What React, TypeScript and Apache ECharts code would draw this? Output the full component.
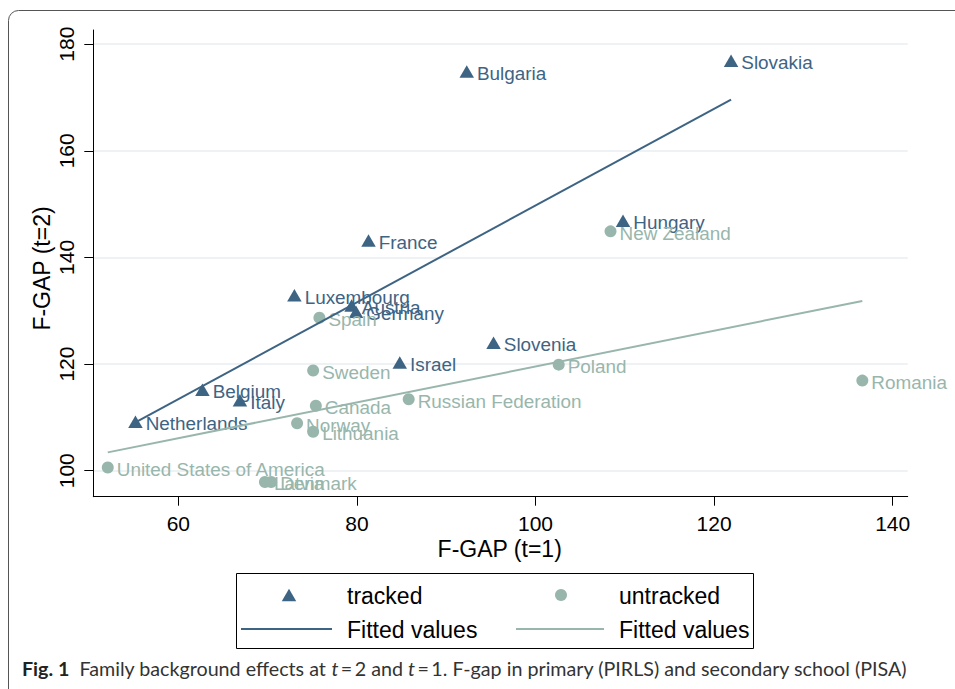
import React, { useEffect, useRef } from "react";
import * as echarts from "echarts";

// ---- data ----
const trackedNames = ["Slovakia", "Bulgaria", "Hungary", "France", "Luxembourg", "Austria", "Germany", "Slovenia", "Israel", "Belgium", "Italy", "Netherlands"];
const trackedX = [121.9, 92.3, 109.8, 81.3, 73.0, 79.4, 79.9, 95.3, 84.8, 62.7, 66.9, 55.2];
const trackedY = [176.9, 174.9, 146.9, 143.2, 132.9, 131.0, 129.8, 124.0, 120.3, 115.2, 113.2, 109.2];

const untrackedNames = ["New Zealand", "Spain", "Sweden", "Poland", "Romania", "Canada", "Russian Federation", "Norway", "Lithuania", "United States of America", "Latvia", "Denmark"];
const untrackedX = [108.4, 75.8, 75.1, 102.6, 136.6, 75.4, 85.8, 73.3, 75.1, 52.1, 69.7, 70.4];
const untrackedY = [144.9, 128.7, 118.8, 119.9, 116.9, 112.2, 113.4, 108.9, 107.3, 100.6, 97.9, 97.9];

const xTicks = [60, 80, 100, 120, 140];
const yTicks = [100, 120, 140, 160, 180];

const X_MIN = 50.48;
const X_MAX = 141.68;
const Y_MIN = 95.13;
const Y_MAX = 182.66;

const TRACKED_COLOR = "#3e6484";
const UNTRACKED_COLOR = "#98b6ac";
const FONT = "'Liberation Sans', Arial, Helvetica, sans-serif";
const CAPTION_FONT = "Lato, 'Open Sans', sans-serif";

function ols(xs: number[], ys: number[]) {
  const n = xs.length;
  const mx = xs.reduce((a, b) => a + b, 0) / n;
  const my = ys.reduce((a, b) => a + b, 0) / n;
  let sxy = 0;
  let sxx = 0;
  for (let i = 0; i < n; i++) {
    sxy += (xs[i] - mx) * (ys[i] - my);
    sxx += (xs[i] - mx) * (xs[i] - mx);
  }
  const b = sxy / sxx;
  const a = my - b * mx;
  return { a, b };
}

function fitLine(xs: number[], ys: number[]) {
  const { a, b } = ols(xs, ys);
  const lo = Math.min(...xs);
  const hi = Math.max(...xs);
  return [
    [lo, a + b * lo],
    [hi, a + b * hi],
  ];
}

function points(names: string[], xs: number[], ys: number[]) {
  return names.map((n, i) => ({ name: n, value: [xs[i], ys[i]] }));
}

export default function App() {
  const ref = useRef<HTMLDivElement>(null);

  useEffect(() => {
    if (!ref.current) return;
    const chart = echarts.init(ref.current, undefined, { renderer: "svg" });

    const legendText = (t: string, x: number, y: number) => ({
      type: "text",
      x,
      y,
      style: { text: t, fontSize: 23, fontFamily: FONT, fill: "#000", textAlign: "left", textVerticalAlign: "middle" },
    });

    const option: any = {
      animation: false,
      backgroundColor: "#ffffff",
      grid: {
        left: 93.3,
        right: 47.3,
        top: 30,
        bottom: 192.3,
        containLabel: false,
        outerBoundsMode: "none",
      },
      xAxis: {
        type: "value",
        min: X_MIN,
        max: X_MAX,
        axisLine: { show: true, onZero: false, lineStyle: { color: "#000", width: 1 } },
        axisTick: { show: true, length: 9, customValues: xTicks, lineStyle: { color: "#000", width: 1 } },
        axisLabel: { show: true, customValues: xTicks, fontSize: 21, fontFamily: FONT, color: "#000", margin: 16 },
        splitLine: { show: false },
      },
      yAxis: {
        type: "value",
        min: Y_MIN,
        max: Y_MAX,
        axisLine: { show: true, onZero: false, lineStyle: { color: "#000", width: 1 } },
        axisTick: { show: true, length: 9, customValues: yTicks, lineStyle: { color: "#000", width: 1 } },
        axisLabel: { show: true, customValues: yTicks, rotate: 90, fontSize: 21, fontFamily: FONT, color: "#000", margin: 16 },
        splitLine: { show: true, lineStyle: { color: "#e8eef2", width: 1.5 } },
      },
      series: [
        {
          name: "tracked",
          type: "scatter",
          symbol: "triangle",
          symbolSize: [14.5, 12.5],
          itemStyle: { color: TRACKED_COLOR, opacity: 1 },
          label: { show: true, position: "right", distance: 3, offset: [0, 2], formatter: "{b}", color: TRACKED_COLOR, fontSize: 18.9, fontFamily: FONT },
          data: points(trackedNames, trackedX, trackedY),
          z: 3,
        },
        {
          name: "untracked",
          type: "scatter",
          symbol: "circle",
          symbolSize: 12,
          itemStyle: { color: UNTRACKED_COLOR, opacity: 1 },
          label: { show: true, position: "right", distance: 3, offset: [0, 2], formatter: "{b}", color: UNTRACKED_COLOR, fontSize: 18.9, fontFamily: FONT },
          data: points(untrackedNames, untrackedX, untrackedY),
          z: 3,
        },
        {
          name: "Fitted values (tracked)",
          type: "line",
          symbol: "none",
          lineStyle: { color: TRACKED_COLOR, width: 2 },
          data: fitLine(trackedX, trackedY),
          z: 4,
        },
        {
          name: "Fitted values (untracked)",
          type: "line",
          symbol: "none",
          lineStyle: { color: UNTRACKED_COLOR, width: 2 },
          data: fitLine(untrackedX, untrackedY),
          z: 4,
        },
      ],
      graphic: [
        {
          type: "rect",
          shape: { x: 8.5, y: 10.5, width: 1000, height: 700, r: 10 },
          style: { fill: "none", stroke: "#555", lineWidth: 1 },
        },
        {
          type: "text",
          x: 499.7,
          y: 549,
          style: { text: "F-GAP (t=1)", fontSize: 23, fontFamily: FONT, fill: "#000", textAlign: "center", textVerticalAlign: "middle" },
        },
        {
          type: "text",
          x: 41.5,
          y: 268.5,
          rotation: Math.PI / 2,
          style: { text: "F-GAP (t=2)", fontSize: 23, fontFamily: FONT, fill: "#000", textAlign: "center", textVerticalAlign: "middle" },
        },
        {
          type: "rect",
          shape: { x: 236.5, y: 573.5, width: 517, height: 75 },
          style: { fill: "#fff", stroke: "#000", lineWidth: 1 },
        },
        {
          type: "polygon",
          shape: { points: [[281.75, 601.25], [296.25, 601.25], [289, 588.75]] },
          style: { fill: TRACKED_COLOR },
        },
        {
          type: "circle",
          shape: { cx: 561, cy: 595, r: 6 },
          style: { fill: UNTRACKED_COLOR },
        },
        {
          type: "line",
          shape: { x1: 241, y1: 629, x2: 332, y2: 629 },
          style: { stroke: TRACKED_COLOR, lineWidth: 2 },
        },
        {
          type: "line",
          shape: { x1: 516, y1: 629, x2: 604, y2: 629 },
          style: { stroke: UNTRACKED_COLOR, lineWidth: 2 },
        },
        legendText("tracked", 347, 596),
        legendText("untracked", 619, 596),
        legendText("Fitted values", 347, 630),
        legendText("Fitted values", 619, 630),
        {
          type: "text",
          x: 22,
          y: 668,
          style: {
            text: "{b|Fig. 1}  Family background effects at {i|t}\u2009=\u20092 and {i|t}\u2009=\u20091. F-gap in primary (PIRLS) and secondary school (PISA)",
            fontSize: 19.7,
            fontFamily: CAPTION_FONT,
            fill: "#333",
            textAlign: "left",
            textVerticalAlign: "middle",
            rich: {
              b: { fontWeight: "bold", fontSize: 19.7, fontFamily: CAPTION_FONT, fill: "#222" },
              i: { fontStyle: "italic", fontSize: 19.7, fontFamily: CAPTION_FONT, fill: "#333" },
            },
          },
        },
      ],
    };

    chart.setOption(option);
    return () => chart.dispose();
  }, []);

  return (
    <div
      ref={ref}
      style={{ position: "absolute", left: 0, top: 0, width: 955, height: 689 }}
    />
  );
}
